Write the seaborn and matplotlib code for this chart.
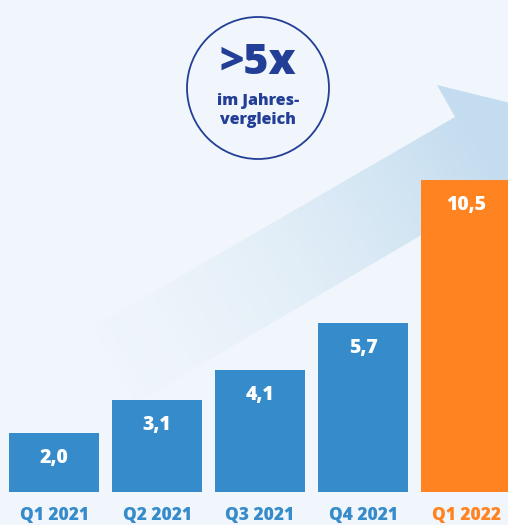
import numpy as np
import matplotlib
matplotlib.use("Agg")
import matplotlib.pyplot as plt
from matplotlib.patches import Polygon, Circle
from matplotlib.colors import to_rgb
import seaborn as sns

# data
quarters = ["Q1 2021", "Q2 2021", "Q3 2021", "Q4 2021", "Q1 2022"]
values = [2.0, 3.1, 4.1, 5.7, 10.5]
value_labels = ["2,0", "3,1", "4,1", "5,7", "10,5"]

BG = "#f0f6fb"
BLUE = "#368bca"
ORANGE = "#ff8320"
NAVY = "#233e96"
ARROW = "#c3dcef"

sns.set_theme(style="white")
plt.rcParams["font.family"] = ["Open Sans", "DejaVu Sans"]

fig = plt.figure(figsize=(5.08, 5.25), dpi=100, facecolor=BG)

# background decoration in pixel coordinates
bg = fig.add_axes([0, 0, 1, 1], zorder=0)
bg.set_xlim(0, 508)
bg.set_ylim(525, 0)
bg.axis("off")

arrow_pts = [(93, 327), (455, 117), (437, 85), (620, 130), (620, 320),
             (498, 190), (136, 403)]
arrow = Polygon(arrow_pts, closed=True, facecolor="none", edgecolor="none")
bg.add_patch(arrow)

xx, yy = np.meshgrid(np.arange(508), np.arange(525))
ang = np.deg2rad(30.3)
proj = (xx - 93) * np.cos(ang) - (yy - 327) * np.sin(ang)
t = np.clip(proj / 430.0, 0, 1)
rgba = np.zeros((525, 508, 4))
rgba[..., :3] = to_rgb(ARROW)
rgba[..., 3] = 0.02 + 0.98 * t ** 1.6
im = bg.imshow(rgba, extent=(0, 508, 525, 0), interpolation="bilinear", zorder=1)
im.set_clip_path(arrow)

cx, cy = 258, 88
bg.add_patch(Circle((cx, cy), 71, facecolor="none", edgecolor=NAVY, lw=1.3, zorder=3))
bg.text(cx, 63, ">5x", ha="center", va="center", color=NAVY,
        fontsize=31, fontweight=800, zorder=4)
bg.text(cx, 101, "im Jahres-", ha="center", va="center", color=NAVY,
        fontsize=11.5, fontweight=800, zorder=4)
bg.text(cx, 120, "vergleich", ha="center", va="center", color=NAVY,
        fontsize=11.5, fontweight=800, zorder=4)

# bar chart
ax = fig.add_axes([0, 0, 1, 1], zorder=2)
ax.patch.set_alpha(0)
colors = [BLUE, BLUE, BLUE, BLUE, ORANGE]
sns.barplot(x=quarters, y=values, hue=quarters, palette=colors, legend=False,
            width=0.874, saturation=1, linewidth=0, edgecolor="none", ax=ax)

scale = 29.7
ax.set_xlim(-54 / 103, (508 - 54) / 103)
ax.set_ylim(-33 / scale, (525 - 33) / scale)
sns.despine(ax=ax, left=True, bottom=True)
ax.set_yticks([])
ax.set_ylabel("")
ax.set_xlabel("")

for i, (v, lab) in enumerate(zip(values, value_labels)):
    ax.annotate(lab, (i, v), xytext=(0, -18), textcoords="offset points",
                ha="center", va="center", color="white",
                fontsize=14, fontweight=800)

for i, (q, c) in enumerate(zip(quarters, colors)):
    ax.annotate(q, (i, 0), xytext=(0, -17), textcoords="offset points",
                ha="center", va="center", color=c,
                fontsize=12.5, fontweight=800, annotation_clip=False)
ax.set_xticks([])

fig.savefig("out.png", dpi=100, facecolor=BG)
